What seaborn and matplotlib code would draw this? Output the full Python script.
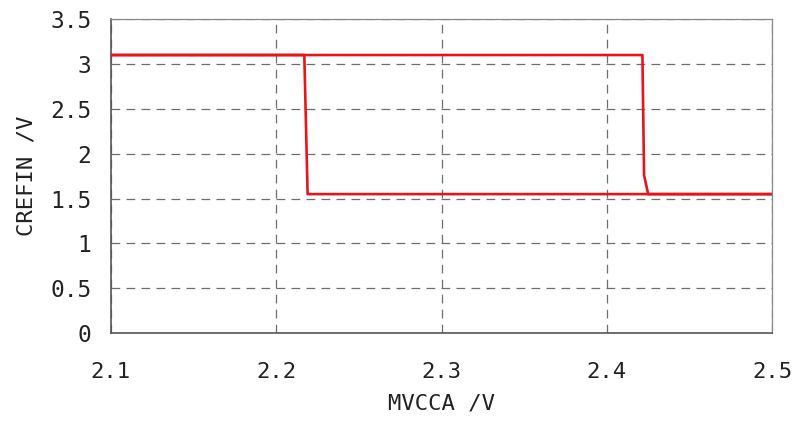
import pandas as pd
import matplotlib
matplotlib.use("Agg")
import matplotlib.pyplot as plt
import seaborn as sns

# --------------------------
# Data
# --------------------------
# rising sweep of MVCCA
up_x = [2.10, 2.3, 2.4215, 2.4225, 2.425, 2.5]
up_y = [3.10, 3.10, 3.10, 1.76, 1.55, 1.55]
# falling sweep of MVCCA
down_x = [2.5, 2.3, 2.219, 2.217, 2.10]
down_y = [1.55, 1.55, 1.55, 3.10, 3.10]

x_ticks = [2.1, 2.2, 2.3, 2.4, 2.5]
y_ticks = [0, 0.5, 1, 1.5, 2, 2.5, 3, 3.5]

df = pd.concat([
    pd.DataFrame({"MVCCA": up_x, "CREFIN": up_y, "sweep": "up"}),
    pd.DataFrame({"MVCCA": down_x, "CREFIN": down_y, "sweep": "down"}),
], ignore_index=True)

sns.set_style("white")
plt.rcParams['font.family'] = ['DejaVu Sans Mono', 'Noto Sans CJK JP']

fig, ax = plt.subplots(figsize=(7.92, 4.25), dpi=100)
fig.subplots_adjust(left=0.140, right=0.975, top=0.955, bottom=0.216)

for sweep in ["up", "down"]:
    sns.lineplot(data=df[df["sweep"] == sweep], x="MVCCA", y="CREFIN", sort=False,
                 color="#e8141c", linewidth=1.9, ax=ax, zorder=3)

ax.set_xlim(2.1, 2.5)
ax.set_ylim(0, 3.5)
ax.set_xticks(x_ticks)
ax.set_yticks(y_ticks)
ax.set_xticklabels([f"{v:g}" for v in x_ticks])
ax.set_yticklabels([f"{v:g}" for v in y_ticks])
ax.tick_params(axis="x", length=0, pad=21, labelsize=16, colors="#222222")
ax.tick_params(axis="y", length=0, pad=14, labelsize=16.5, colors="#222222")

ax.grid(True, color="#6e6e6e", linestyle=(0, (7, 5)), linewidth=0.9)
for side in ["left", "bottom"]:
    ax.spines[side].set_color("#555555")
    ax.spines[side].set_linewidth(1.2)
for side in ["top", "right"]:
    ax.spines[side].set_color("#888888")
    ax.spines[side].set_linewidth(0.9)

ax.set_xlabel("MVCCA /V", fontsize=16, labelpad=8, color="#222222")
ax.set_ylabel("CREFIN /V", fontsize=16, labelpad=10, color="#222222")

fig.savefig("out.png", dpi=100)
